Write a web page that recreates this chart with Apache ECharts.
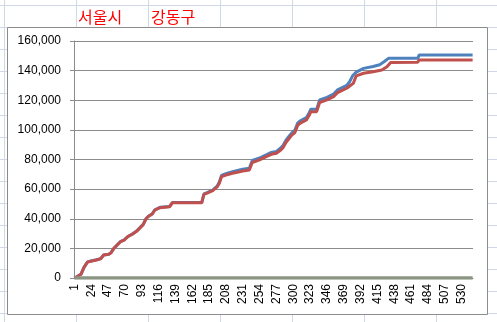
<!DOCTYPE html>
<html><head><meta charset="utf-8">
<script src="https://cdn.jsdelivr.net/npm/echarts@6/dist/echarts.min.js"></script>
<style>html,body{margin:0;padding:0;background:#fff}#c{width:497px;height:322px}</style>
</head><body><div id="c"></div>
<script>
// categories: day numbers 1..545
const dayCount = 545;
const categories = [];
for (let d = 1; d <= dayCount; d++) categories.push(String(d));

// header labels
const headerTexts = ['서울시', '강동구'];

// series 1 (blue) keypoints: [day, cumulative value]
const blueDays = [1,5,10,14,19,25,31,37,41,48,51,55,60,64,69,74,80,86,91,95,99,102,107,111,118,131,135,175,178,183,190,196,199,202,208,217,225,231,240,244,254,263,270,277,282,286,290,294,298,302,306,309,318,322,324,332,336,346,355,360,364,373,377,381,386,396,409,418,424,430,470,472,545];
const blueVals = [0,1000,2500,7000,10900,11600,12300,13100,15600,16100,17100,20100,22600,24600,25700,28000,29600,31700,34200,36200,40200,41700,43200,46000,47700,48300,51000,51000,56800,57800,59300,62000,64800,69200,70500,71800,72700,73400,74100,79300,81000,83200,84800,85500,87400,89500,93000,95500,98000,99600,104600,106000,108300,111700,114000,114000,120200,121900,124200,126800,127900,130000,132500,136500,139000,141500,142800,144000,146000,148300,148300,150600,150600];

// series 2 (red) keypoints
const redDays = [1,5,10,14,19,25,31,37,41,48,51,55,60,64,69,74,80,86,91,95,99,102,107,111,118,131,135,175,178,183,190,196,199,202,208,217,225,231,240,244,254,263,270,277,282,286,290,294,298,302,306,309,318,322,324,332,336,346,355,360,364,373,378,382,386,396,409,421,428,433,470,472,545];
const redVals = [0,1000,2500,7000,10800,11500,12200,13000,15500,16000,17000,20000,22500,24500,25500,27900,29500,31500,34000,36000,40000,41500,43000,45900,47500,48100,50800,50800,56500,57500,59000,61500,64000,68400,69500,70700,71500,72200,72900,78000,79700,81900,83500,84200,86000,88000,91500,94000,96500,98000,103000,104400,106700,110000,112300,112300,118500,120200,122400,125000,126000,128100,130000,131400,136500,138200,139300,140400,142600,145500,145700,147200,147200];

// series 3 (zero line)
const zeroDays = [1, 545];
const zeroVals = [0, 0];

const pairs = (days, vals) => days.map((d, i) => [d - 1, vals[i]]);

// spreadsheet background grid (decoration)
const colXs = [4.5, 76.5, 148.5, 220.5, 292.5, 364.5, 436.5];
const rowYs = [5.5, 27.5, 49.5, 71.5, 93.5, 115.5, 137.5, 159.5, 181.5, 203.5, 225.5, 247.5, 269.5, 291.5, 313.5];

const graphics = [];
colXs.forEach(x => graphics.push({type:'line', z:-20, silent:true, shape:{x1:x,y1:0,x2:x,y2:322}, style:{stroke:'#d0d7e5', lineWidth:1}}));
rowYs.forEach(y => graphics.push({type:'line', z:-20, silent:true, shape:{x1:0,y1:y,x2:497,y2:y}, style:{stroke:'#d0d7e5', lineWidth:1}}));
graphics.push({type:'rect', z:-10, silent:true, shape:{x:7.5,y:27.5,width:480,height:287}, style:{fill:'#fff', stroke:'#8c8c8c', lineWidth:1}});
const headerX = [78, 151];
headerTexts.forEach((t, i) => graphics.push({type:'text', z:5, silent:true, style:{x:headerX[i], y:16.5, text:t, fill:'#ff0000', font:'16px "Noto Sans CJK KR"', textVerticalAlign:'middle'}}));

const chart = echarts.init(document.getElementById('c'), null, {renderer:'canvas'});
chart.setOption({
  animation: false,
  backgroundColor: '#ffffff',
  graphic: graphics,
  grid: {left: 74, right: 24, top: 41, bottom: 44, containLabel: false},
  xAxis: {
    type: 'category',
    data: categories,
    boundaryGap: true,
    axisLine: {show: true, lineStyle: {color: '#8c8c8c', width: 1}},
    axisTick: {show: false},
    axisLabel: {interval: 22, rotate: 90, margin: 6, fontSize: 12, color: '#000', fontFamily: 'Liberation Sans'},
    splitLine: {show: false}
  },
  yAxis: {
    type: 'value',
    min: 0, max: 160000, interval: 20000,
    axisLine: {show: true, lineStyle: {color: '#8c8c8c', width: 1}},
    axisTick: {show: true, length: 4, lineStyle: {color: '#8c8c8c'}},
    axisLabel: {margin: 13, fontSize: 12, color: '#000', fontFamily: 'Liberation Sans',
      formatter: v => v.toLocaleString('en-US')},
    splitLine: {show: true, lineStyle: {color: '#8c8c8c', width: 1}}
  },
  series: [
    {type:'line', data: pairs(blueDays, blueVals), symbol:'none', lineStyle:{color:'#4f81bd', width:3}, itemStyle:{color:'#4f81bd'}, z:3},
    {type:'line', data: pairs(redDays, redVals), symbol:'none', lineStyle:{color:'#c0504d', width:3}, itemStyle:{color:'#c0504d'}, z:4},
    {type:'line', data: pairs(zeroDays, zeroVals), symbol:'none', lineStyle:{color:'#8c9482', width:3.5}, itemStyle:{color:'#8c9482'}, z:5}
  ]
});
</script></body></html>
